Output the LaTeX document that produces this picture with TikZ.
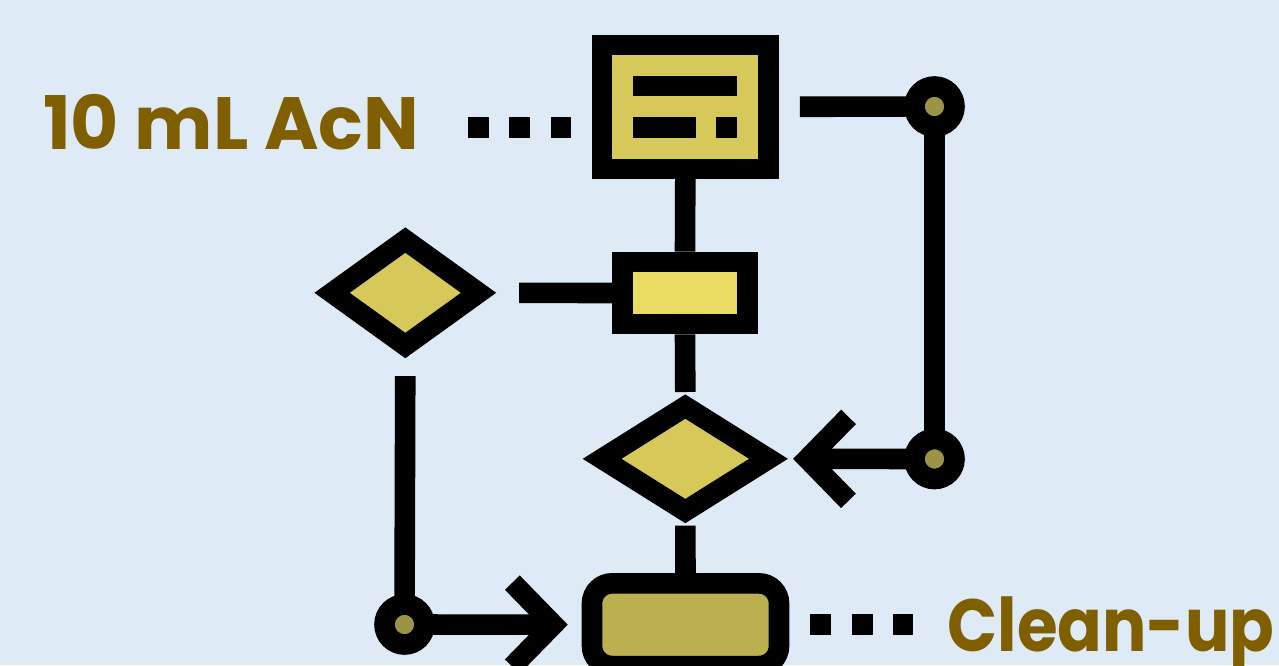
\documentclass[tikz,border=0pt]{standalone}
\usepackage{fontspec}
\usetikzlibrary{arrows.meta,positioning,shapes.geometric}
\newfontfamily\lblfont{Poppins}
\definecolor{bg}{HTML}{DEEAF6}
\definecolor{gold}{HTML}{D6C95A}
\definecolor{lemon}{HTML}{E8DC62}
\definecolor{olive}{HTML}{BAB04F}
\definecolor{knob}{HTML}{9C9444}
\definecolor{lbl}{HTML}{7F5F00}
\tikzset{
  box/.style={draw=black,line width=20.6pt,fill=gold,inner sep=0pt},
  rbox/.style={box,rounded corners=20pt,fill=olive},
  dia/.style={box,diamond},
  joint/.style={draw=black,line width=20.6pt,circle,fill=knob,inner sep=0pt,minimum size=40pt},
  ln/.style={line width=20.6pt,draw=black},
  ar/.style={ln,-{Straight Barb[sharp,length=41pt,width=84pt]}},
  dotln/.style={ln,dash pattern=on 21pt off 20.4pt},
  txt/.style={font=\lblfont\bfseries\fontsize{74}{88}\selectfont,text=lbl,inner sep=0pt,anchor=base west},
}

\begin{document}
\begin{tikzpicture}[x=1pt,y=-1pt]
  \fill[bg] (0,0) rectangle (1279,665);
  \useasboundingbox (0,0) rectangle (1279,665);
  % flow column
  \node[box,minimum width=166.5pt,minimum height=124pt] (sheet) at (685.3,106.8) {};
  \node[box,fill=lemon,minimum width=124.5pt,minimum height=62pt] (mix) at (685,293) {};
  \node[dia,minimum width=175pt,minimum height=113pt] (check) at (685.3,458.8) {};
  \node[rbox,minimum width=187pt,minimum height=82.7pt] (clean) at (685.5,624.7) {};
  \node[dia,minimum width=155pt,minimum height=114pt] (test) at (405.3,292.8) {};
  % bars on the sheet
  \fill ([shift={(-52,-31.1)}]sheet.center) rectangle ([shift={(51.7,-10.5)}]sheet.center);
  \fill ([shift={(-52,10.5)}]sheet.center) rectangle ([shift={(10.4,31)}]sheet.center);
  \fill ([shift={(31,10.5)}]sheet.center) rectangle ([shift={(51.7,31)}]sheet.center);
  % joints
  \node[joint] (jA) at (934.5,106.5) {};
  \node[joint] (jB) at (934.5,459) {};
  \node[joint] (jC) at (404.5,624.5) {};
  % links
  \draw[ln] (sheet.south) -- (mix.north);
  \draw[ln] (mix.south) -- (check.north);
  \draw[ln] (check.south) -- (clean.north);
  \draw[ln,shorten <=26pt] (test.east) -- (mix.west);
  \draw[ln,shorten <=21pt,shorten >=-6pt] (sheet.east) -- (jA);
  \draw[ln,shorten <=-6pt,shorten >=-6pt] (jA) -- (jB);
  \draw[ar,shorten <=-6pt,shorten >=10pt] (jB) -- (check.east);
  \draw[ln,shorten <=16pt,shorten >=-6pt] (test.south) -- (jC);
  \draw[ar,shorten <=-6pt,shorten >=14pt] (jC) -- (clean.west);
  % labels
  \node[txt] (acn) at (42.9,149.3) {10 mL AcN};
  \node[txt] (cup) at (947.3,651.7) {\scalebox{0.89}[1]{Clean-up}};
  \coordinate (dA) at (467.7,127.5);
  \coordinate (dB) at (571.4,127.5);
  \coordinate (dC) at (810.2,624.7);
  \coordinate (dD) at (912.8,624.7);
  \draw[dotln] (dA) -- (dB);
  \draw[dotln] (dC) -- (dD);
\end{tikzpicture}
\end{document}
